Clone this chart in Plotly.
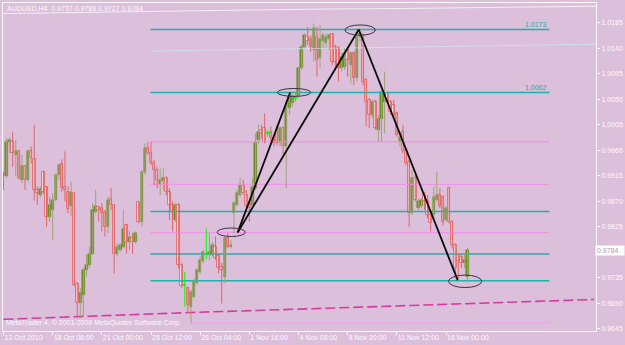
import plotly.graph_objects as go

symbol = "AUDUSD,H4"
copyright_text = "MetaTrader 4, \u00a9 2001-2009 MetaQuotes Software Corp."

opens = [0.9919, 0.9914, 0.9975, 0.9975, 0.9952, 0.9958, 0.9908, 0.9932, 0.9908, 0.9958,
         0.9944, 0.9890, 0.9881, 0.9922, 0.9896, 0.9843, 0.9855, 0.9872, 0.9917, 0.9935,
         0.9896, 0.9887, 0.9861, 0.9884, 0.9724, 0.9691, 0.9705, 0.9749, 0.9758, 0.9778,
         0.9852, 0.9860, 0.9858, 0.9852, 0.9825, 0.9874, 0.9864, 0.9778, 0.9785, 0.9790,
         0.9828, 0.9799, 0.9805, 0.9799, 0.9868, 0.9834, 0.9922, 0.9964, 0.9955, 0.9937,
         0.9925, 0.9899, 0.9905, 0.9911, 0.9887, 0.9864, 0.9837, 0.9864, 0.9758, 0.9723,
         0.9717, 0.9684, 0.9702, 0.9726, 0.9746, 0.9764, 0.9778, 0.9775, 0.9775, 0.9790,
         0.9773, 0.9755, 0.9737, 0.9805, 0.9790, 0.9849, 0.9864, 0.9881, 0.9899, 0.9881,
         0.9867, 0.9864, 0.9893, 0.9978, 0.9996, 0.9999, 0.9990, 0.9993, 0.9981, 0.9996,
         0.9972, 0.9999, 0.9967, 1.0034, 1.0043, 1.0052, 1.0055, 1.0105, 1.0143, 1.0160,
         1.0157, 1.0137, 1.0160, 1.0122, 1.0152, 1.0149, 1.0157, 1.0165, 1.0143, 1.0140,
         1.0105, 1.0107, 1.0137, 1.0110, 1.0131, 1.0087, 1.0160, 1.0163, 1.0084, 1.0049,
         1.0022, 1.0046, 0.9996, 1.0016, 1.0046, 1.0061, 1.0046, 1.0040, 1.0025, 0.9975,
         0.9993, 0.9961, 0.9940, 0.9849, 0.9911, 0.9858, 0.9861, 0.9881, 0.9870, 0.9846,
         0.9846, 0.9872, 0.9881, 0.9878, 0.9837, 0.9893, 0.9834, 0.9793, 0.9775, 0.9772,
         0.9761, 0.9737]
highs = [0.9922, 0.9981, 0.9983, 0.9993, 0.9978, 0.9961, 0.9952, 0.9934, 0.9961, 0.9967,
         1.0005, 0.9896, 0.9896, 0.9924, 0.9897, 0.9878, 0.9884, 0.9919, 0.9937, 0.9944,
         0.9958, 0.9896, 0.9905, 0.9885, 0.9728, 0.9717, 0.9752, 0.9776, 0.9790, 0.9867,
         0.9890, 0.9861, 0.9867, 0.9855, 0.9878, 0.9893, 0.9865, 0.9796, 0.9796, 0.9855,
         0.9831, 0.9817, 0.9814, 0.9817, 0.9870, 0.9925, 0.9972, 0.9975, 0.9975, 0.9943,
         0.9931, 0.9928, 0.9928, 0.9914, 0.9893, 0.9870, 0.9867, 0.9867, 0.9761, 0.9746,
         0.9720, 0.9714, 0.9734, 0.9752, 0.9773, 0.9784, 0.9822, 0.9814, 0.9799, 0.9808,
         0.9776, 0.9761, 0.9808, 0.9814, 0.9802, 0.9870, 0.9890, 0.9911, 0.9908, 0.9890,
         0.9870, 0.9911, 0.9990, 1.0005, 1.0005, 1.0025, 0.9996, 1.0002, 0.9987, 1.0005,
         1.0002, 1.0002, 1.0049, 1.0061, 1.0063, 1.0063, 1.0107, 1.0146, 1.0166, 1.0178,
         1.0163, 1.0184, 1.0178, 1.0181, 1.0166, 1.0166, 1.0166, 1.0166, 1.0146, 1.0143,
         1.0131, 1.0140, 1.0143, 1.0134, 1.0134, 1.0166, 1.0175, 1.0166, 1.0087, 1.0052,
         1.0049, 1.0049, 1.0022, 1.0066, 1.0099, 1.0063, 1.0049, 1.0049, 1.0028, 0.9993,
         1.0005, 0.9963, 0.9943, 0.9925, 0.9917, 0.9875, 0.9875, 0.9887, 0.9881, 0.9852,
         0.9896, 0.9922, 0.9893, 0.9881, 0.9861, 0.9896, 0.9837, 0.9796, 0.9778, 0.9775,
         0.9778, 0.9788]
lows = [0.9890, 0.9911, 0.9955, 0.9931, 0.9914, 0.9908, 0.9902, 0.9890, 0.9905, 0.9937,
        0.9872, 0.9864, 0.9877, 0.9884, 0.9825, 0.9834, 0.9802, 0.9870, 0.9908, 0.9887,
        0.9870, 0.9849, 0.9844, 0.9720, 0.9664, 0.9664, 0.9667, 0.9737, 0.9752, 0.9776,
        0.9849, 0.9834, 0.9817, 0.9808, 0.9814, 0.9855, 0.9743, 0.9773, 0.9781, 0.9787,
        0.9778, 0.9784, 0.9778, 0.9796, 0.9831, 0.9825, 0.9917, 0.9952, 0.9934, 0.9899,
        0.9893, 0.9881, 0.9890, 0.9881, 0.9837, 0.9817, 0.9834, 0.9752, 0.9717, 0.9684,
        0.9673, 0.9655, 0.9699, 0.9723, 0.9743, 0.9761, 0.9767, 0.9767, 0.9773, 0.9767,
        0.9743, 0.9690, 0.9726, 0.9787, 0.9787, 0.9814, 0.9861, 0.9878, 0.9881, 0.9858,
        0.9834, 0.9861, 0.9890, 0.9972, 0.9981, 0.9972, 0.9984, 0.9975, 0.9967, 0.9969,
        0.9967, 0.9952, 0.9893, 1.0022, 1.0037, 1.0046, 1.0052, 1.0102, 1.0140, 1.0146,
        1.0134, 1.0116, 1.0090, 1.0105, 1.0140, 1.0140, 1.0137, 1.0110, 1.0102, 1.0081,
        1.0099, 1.0102, 1.0090, 1.0078, 1.0075, 1.0081, 1.0152, 1.0075, 1.0002, 0.9999,
        1.0016, 0.9996, 0.9975, 0.9975, 0.9990, 1.0043, 1.0022, 1.0016, 0.9984, 0.9967,
        0.9955, 0.9934, 0.9825, 0.9846, 0.9870, 0.9855, 0.9858, 0.9855, 0.9840, 0.9817,
        0.9840, 0.9870, 0.9858, 0.9828, 0.9834, 0.9831, 0.9787, 0.9734, 0.9734, 0.9752,
        0.9752, 0.9727]
closes = [0.9914, 0.9975, 0.9978, 0.9955, 0.9958, 0.9911, 0.9932, 0.9908, 0.9958, 0.9946,
          0.9890, 0.9884, 0.9892, 0.9887, 0.9842, 0.9864, 0.9872, 0.9917, 0.9934, 0.9893,
          0.9890, 0.9857, 0.9887, 0.9723, 0.9691, 0.9708, 0.9749, 0.9758, 0.9778, 0.9855,
          0.9861, 0.9855, 0.9849, 0.9825, 0.9872, 0.9864, 0.9778, 0.9790, 0.9793, 0.9822,
          0.9799, 0.9808, 0.9799, 0.9814, 0.9834, 0.9922, 0.9964, 0.9955, 0.9937, 0.9925,
          0.9908, 0.9908, 0.9911, 0.9887, 0.9864, 0.9855, 0.9864, 0.9758, 0.9720, 0.9723,
          0.9687, 0.9711, 0.9728, 0.9749, 0.9767, 0.9781, 0.9778, 0.9781, 0.9793, 0.9770,
          0.9752, 0.9749, 0.9805, 0.9790, 0.9793, 0.9867, 0.9884, 0.9899, 0.9884, 0.9861,
          0.9858, 0.9896, 0.9975, 0.9993, 0.9990, 0.9975, 0.9990, 0.9981, 0.9972, 0.9972,
          0.9999, 0.9967, 1.0037, 1.0055, 1.0055, 1.0052, 1.0105, 1.0143, 1.0163, 1.0152,
          1.0143, 1.0175, 1.0119, 1.0157, 1.0163, 1.0160, 1.0163, 1.0116, 1.0116, 1.0105,
          1.0125, 1.0131, 1.0119, 1.0131, 1.0087, 1.0160, 1.0166, 1.0081, 1.0046, 1.0022,
          1.0046, 0.9999, 1.0016, 1.0063, 1.0061, 1.0046, 1.0028, 1.0022, 0.9987, 0.9984,
          0.9958, 0.9937, 0.9849, 0.9911, 0.9872, 0.9870, 0.9872, 0.9870, 0.9846, 0.9831,
          0.9878, 0.9881, 0.9861, 0.9834, 0.9858, 0.9834, 0.9793, 0.9752, 0.9764, 0.9761,
          0.9767, 0.9784]

# time axis: one label every 16 bars
tick_bars = [0, 16, 32, 48, 64, 80, 96, 112, 128, 144]
tick_labels = ["13 Oct 2010", "18 Oct 08:00", "21 Oct 00:00", "25 Oct 12:00", "28 Oct 04:00",
               "1 Nov 16:00", "4 Nov 08:00", "8 Nov 20:00", "11 Nov 12:00", "16 Nov 00:00"]
price_ticks = [0.9645, 0.9690, 0.9735, 0.9825, 0.9870, 0.9915, 0.9960,
               1.0005, 1.0050, 1.0095, 1.0140, 1.0185]

# fibonacci-style horizontal levels (drawn from bar fib_start to fib_end)
fib_start, fib_end = 47.8, 177.6
fib_teal = [1.0173, 1.0062, 0.9852, 0.9777, 0.9730]
fib_pink = [0.9975, 0.9900, 0.9815]
fib_labels = {1.0173: "1.0173", 1.0062: "1.0062"}
low_line_level, low_line_start = 0.9656, 61.0

# pattern points (bar, price): A-B, A-C, C-D
pat_bars = [76.2, 93.3, 115.6, 147.8]
pat_prices = [0.9815, 1.0062, 1.0173, 0.9731]
# ellipses marking pattern points: (bar0, bar1, price0, price1)
ellipses = [(69.5, 78.7, 0.9808, 0.9823), (89.1, 100.0, 1.0055, 1.0069),
            (111.1, 121.0, 1.0163, 1.0181), (144.8, 155.6, 0.9718, 0.9740)]

# indicator lines
ma_low_bars = [0, 44.6, 60.8, 96.5, 135.4, 161.4, 192.2]
ma_low_vals = [0.9662, 0.9671, 0.9674, 0.9680, 0.9687, 0.9692, 0.9697]
ma_top_bars = [0, 47.8, 75.4, 103, 129, 192.8]
ma_top_vals = [1.0201, 1.0204, 1.0207, 1.0209, 1.0210, 1.0214]
ma_mid_bars = [47.8, 80.3, 106.2, 135.4, 154.9, 192.8]
ma_mid_vals = [1.0135, 1.0138, 1.0140, 1.0142, 1.0144, 1.0147]

BG = "#DBBFDB"
OLIVE = "#6B8E23"
OLIVE_WICK = "#A2A27A"
BEAR_LINE = "#E06666"
BEAR_FILL = "#F7E1EA"
LIME = "#00FF00"
TEAL = "#20B2AA"
PINK = "#EE96E6"
WHITE = "#FFF8FF"
FONT = "Liberation Sans"

n = len(opens)
idx = list(range(n))
bull = [i for i in idx if closes[i] > opens[i]]
bear = [i for i in idx if closes[i] < opens[i]]
doji = [i for i in idx if closes[i] == opens[i]]

fig = go.Figure()

# indicator lines behind everything
fig.add_trace(go.Scatter(x=ma_top_bars, y=ma_top_vals, mode="lines",
                         line=dict(color="#F6EEF6", width=1), hoverinfo="skip"))
fig.add_trace(go.Scatter(x=ma_mid_bars, y=ma_mid_vals, mode="lines",
                         line=dict(color="#D3DDEB", width=1), hoverinfo="skip"))
fig.add_trace(go.Scatter(x=ma_low_bars, y=ma_low_vals, mode="lines",
                         line=dict(color="#D43C9E", width=1.6, dash="10px,4px"), hoverinfo="skip"))

# horizontal levels
def hl(levels, x0, x1):
    xs, ys = [], []
    for v in levels:
        xs += [x0, x1, None]
        ys += [v, v, None]
    return xs, ys

xs, ys = hl(fib_pink, fib_start, fib_end)
fig.add_trace(go.Scatter(x=xs, y=ys, mode="lines", line=dict(color=PINK, width=1.2), hoverinfo="skip"))
xs, ys = hl([low_line_level], low_line_start, fib_end)
fig.add_trace(go.Scatter(x=xs, y=ys, mode="lines", line=dict(color="#E7A6E4", width=1.1), hoverinfo="skip"))
xs, ys = hl(fib_teal, fib_start, fib_end)
fig.add_trace(go.Scatter(x=xs, y=ys, mode="lines", line=dict(color=TEAL, width=1.5), hoverinfo="skip"))

# wicks
def wicks(ids):
    xs, ys = [], []
    for i in ids:
        xs += [i, i, None]
        ys += [lows[i], highs[i], None]
    return xs, ys

for ids, col in ((bull, OLIVE_WICK), (bear, BEAR_LINE), (doji, LIME)):
    xs, ys = wicks(ids)
    fig.add_trace(go.Scatter(x=xs, y=ys, mode="lines", line=dict(color=col, width=1),
                             hoverinfo="skip"))

MINH = 0.00016
def bodies(ids):
    base = [min(opens[i], closes[i]) for i in ids]
    h = [max(abs(closes[i] - opens[i]), MINH) for i in ids]
    return base, h

b, h = bodies(bull)
fig.add_trace(go.Bar(x=bull, y=h, base=b, width=0.8,
                     marker=dict(color=OLIVE, line=dict(color=OLIVE, width=0.5)), hoverinfo="skip"))
b, h = bodies(bear)
fig.add_trace(go.Bar(x=bear, y=h, base=b, width=0.85,
                     marker=dict(color=BEAR_FILL, line=dict(color=BEAR_LINE, width=0.9)), hoverinfo="skip"))
b, h = bodies(doji)
fig.add_trace(go.Bar(x=doji, y=h, base=[v - MINH / 2 for v in b], width=0.9,
                     marker=dict(color=LIME, line=dict(color=LIME, width=0)), hoverinfo="skip"))

# pattern lines
for a, c in ((0, 1), (0, 2), (2, 3)):
    fig.add_trace(go.Scatter(x=[pat_bars[a], pat_bars[c]], y=[pat_prices[a], pat_prices[c]],
                             mode="lines", line=dict(color="#0A0A0A", width=1.8), hoverinfo="skip"))

shapes = []
for x0, x1, y0, y1 in ellipses:
    shapes.append(dict(type="circle", xref="x", yref="y", x0=x0, x1=x1, y0=y0, y1=y1,
                       line=dict(color="#3C3440", width=1)))

annotations = [
    dict(xref="paper", yref="paper", x=0, y=1, xanchor="left", yanchor="top", xshift=2, yshift=0,
         text=f"{symbol}  {opens[-1]:.4f} {highs[-1]:.4f} {lows[-1]:.4f} {closes[-1]:.4f}",
         showarrow=False, font=dict(family=FONT, size=7, color=WHITE)),
    dict(xref="paper", yref="paper", x=0, y=0, xanchor="left", yanchor="bottom", xshift=1, yshift=2,
         text=copyright_text, showarrow=False, font=dict(family=FONT, size=7, color=WHITE)),
    dict(xref="paper", yref="y", x=1, y=closes[-1], xanchor="left", yanchor="middle", xshift=-1,
         text=f"{closes[-1]:.4f}", showarrow=False, bgcolor="#FFFFFF", borderpad=1, width=26,
         align="left", font=dict(family=FONT, size=7, color="#B496B4")),
]
for lvl, txt in fib_labels.items():
    annotations.append(dict(xref="x", yref="y", x=fib_end, y=lvl, xanchor="right", yanchor="bottom",
                            yshift=-1, text=txt, showarrow=False,
                            font=dict(family=FONT, size=7, color=TEAL)))

fig.update_layout(
    width=625, height=345,
    margin=dict(l=2, r=28, t=3, b=14, pad=0),
    paper_bgcolor=BG, plot_bgcolor=BG,
    showlegend=False, barmode="overlay", bargap=0,
    shapes=shapes, annotations=annotations,
    xaxis=dict(range=[-0.16, 192.8], showgrid=False, zeroline=False,
               showline=True, linecolor=WHITE, linewidth=1, mirror=True,
               ticks="outside", ticklen=3, tickcolor=WHITE, tickwidth=1,
               tickmode="array", tickvals=tick_bars, ticktext=tick_labels,
               tickangle=0, ticklabelposition="outside right",
               tickfont=dict(family=FONT, size=7, color=WHITE)),
    yaxis=dict(range=[0.96414, 1.02197], side="right", showgrid=False, zeroline=False,
               showline=True, linecolor=WHITE, linewidth=1, mirror=True,
               ticks="outside", ticklen=3, tickcolor=WHITE, tickwidth=1,
               tickmode="array", tickvals=price_ticks,
               ticktext=[f"{v:.4f}" for v in price_ticks],
               tickfont=dict(family=FONT, size=7, color=WHITE)),
)

fig.write_html("out.html")
